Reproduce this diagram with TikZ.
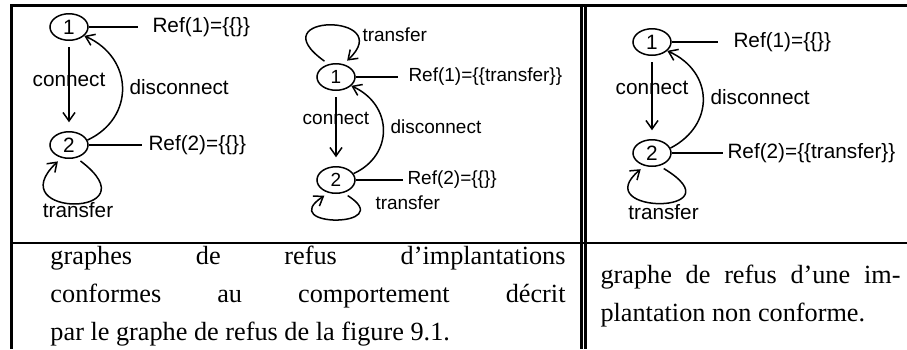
\documentclass[tikz,border=0pt]{standalone}
\usepackage{fontspec}
\setmainfont{Liberation Serif}
\newfontfamily\labfont{Liberation Sans}
\usetikzlibrary{shapes.geometric,arrows.meta}
\newcommand{\labsize}{\labfont\fontsize{8.3}{10}\selectfont}
\newcommand{\labsmall}{\labfont\fontsize{7.6}{9}\selectfont}
\newcommand{\capsize}{\fontsize{10.5}{15.2}\selectfont\normalbaselineskip=15.2pt}

\begin{document}
\begin{tikzpicture}[x=0.4pt, y=-0.4pt,
  state/.style={draw, ellipse, line width=0.6pt, minimum width=15.2pt, minimum height=10.6pt, inner sep=0pt, font=\labsize},
  lab/.style={font=\labsize, inner sep=0pt},
  labb/.style={font=\labsmall, inner sep=0pt},
  trans/.style={-{Straight Barb[length=3.4pt,width=4.8pt]}, line width=0.6pt},
  reftie/.style={line width=0.6pt},
  tabline/.style={line width=1pt},
  capt/.style={font=\capsize, align=justify, anchor=north west, inner sep=0pt},
]
  \useasboundingbox (0,0) rectangle (907,349);

  % table rules
  \draw[tabline] (10,5.5) -- (907,5.5);
  \draw[tabline] (10,243) -- (907,243);
  \draw[tabline, line width=1.2pt] (11.5,4.5) -- (11.5,349);
  \draw[tabline] (581.3,4.5) -- (581.3,349);
  \draw[tabline] (585.7,4.5) -- (585.7,349);

  % first conforming graph
  \node[state] (a1) at (69,27) {1};
  \node[state] (a2) at (69,145) {2};
  \node[lab, anchor=west] (ra1) at (152,27) {Ref(1)=\{\{\}\}};
  \node[lab, anchor=west] (ra2) at (148,145) {Ref(2)=\{\{\}\}};
  \node[lab, anchor=west] (da) at (129,87) {disconnect};
  \node[lab] (ta) at (78,210) {transfer};
  \draw[trans, shorten <=2.5pt, shorten >=3.5pt] (a1) -- node[lab, pos=0.43] {connect} (a2);
  \draw[trans] (a2.15) .. controls (135,118) and (134,58) .. (a1.-30);
  \draw[trans, shorten <=2pt, shorten >=2pt] (a2.-60) .. controls (156,218) and (-2,218) .. (a2.-120);
  \draw[reftie] (a1.east) -- ([xshift=-5.6pt]ra1.west);
  \draw[reftie] (a2.east) -- ([xshift=-2.4pt]ra2.west);

  % second conforming graph
  \node[state, font=\labsmall] (b1) at (336,77) {1};
  \node[state, font=\labsmall] (b2) at (336,180) {2};
  \node[labb, anchor=west] (rb1) at (408,77) {Ref(1)=\{\{transfer\}\}};
  \node[labb, anchor=west] (rb2) at (407,180) {Ref(2)=\{\{\}\}};
  \node[labb, anchor=west] (db) at (390,127) {disconnect};
  \node[labb, anchor=west] (tb1) at (362,35) {transfer};
  \node[labb, anchor=west] (tb2) at (375,203) {transfer};
  \draw[trans, shorten <=2.5pt, shorten >=3.5pt] (b1) -- node[labb, pos=0.36] {connect} (b2);
  \draw[trans] (b2.20) .. controls (394,155) and (393,105) .. (b1.-30);
  \draw[trans, shorten <=2pt, shorten >=2pt] (b1.120) .. controls (257,13) and (398,13) .. (b1.60);
  \draw[trans, shorten <=2pt, shorten >=2pt] (b2.-60) .. controls (399,228) and (275,228) .. (b2.-120);
  \draw[reftie] (b1.east) -- ([xshift=-4pt]rb1.west);
  \draw[reftie] (b2.east) -- ([xshift=-1.6pt]rb2.west);

  % non conforming graph
  \node[state] (c1) at (652,42) {1};
  \node[state] (c2) at (652,153) {2};
  \node[lab, anchor=west] (rc1) at (733,42) {Ref(1)=\{\{\}\}};
  \node[lab, anchor=west] (rc2) at (727,153) {Ref(2)=\{\{transfer\}\}};
  \node[lab, anchor=west] (dc) at (710,97) {disconnect};
  \node[lab] (tc) at (663.5,212) {transfer};
  \draw[trans, shorten <=2.5pt, shorten >=3.5pt] (c1) -- node[lab, pos=0.39] {connect} (c2);
  \draw[trans] (c2.15) .. controls (715,125) and (714,72) .. (c1.-30);
  \draw[trans, shorten <=2pt, shorten >=2pt] (c2.-60) .. controls (741,215) and (586,215) .. (c2.-120);
  \draw[reftie] (c1.east) -- ([xshift=-6pt]rc1.west);
  \draw[reftie] (c2.east) -- ([xshift=-1.6pt]rc2.west);

  % captions
  \node[capt, text width=206pt] (capl) at (50,246) {graphes de refus d'implantations\linebreak conformes au comportement décrit\linebreak par le graphe de refus de la figure 9.1.};
  \node[capt, text width=120pt] (capr) at (600,265) {graphe de refus d'une im-\linebreak plantation non conforme.};
\end{tikzpicture}
\end{document}
